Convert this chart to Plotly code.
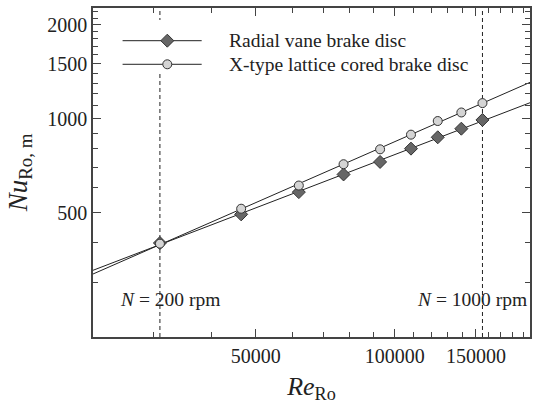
import numpy as np
import plotly.graph_objects as go

# ---------------- data ----------------
re_ro = [31000, 46500, 62000, 77500, 93000, 108500, 124000, 139500, 155000]
nu_radial = [400, 494, 582, 663, 727, 802, 872, 929, 991]
nu_xtype = [398, 515, 611, 715, 798, 889, 983, 1047, 1122]

series_names = ["Radial vane brake disc", "X-type lattice cored brake disc"]
speed_labels = ["<i>N</i> = 200 rpm", "<i>N</i> = 1000 rpm"]

x_ticks = [50000, 100000, 150000]
x_minor = [30000, 40000, 60000, 70000, 80000, 90000, 110000, 120000, 130000,
           140000, 160000, 170000, 180000, 190000]
y_ticks = [500, 1000, 1500, 2000]
y_minor = [300, 400, 600, 700, 800, 900, 1100, 1200, 1300, 1400, 1600, 1700,
           1800, 1900, 2100, 2200]

x_range = [22200, 196500]
y_range = [200, 2262]

FONT = "Liberation Serif"
INK = "#222222"

fig = go.Figure()

# dashed vertical lines at N = 200 and N = 1000 rpm (drawn beneath all traces)
for xv in (re_ro[0], re_ro[-1]):
    fig.add_shape(type="line", xref="x", yref="paper", x0=xv, x1=xv, y0=0, y1=1,
                  layer="below", line=dict(color=INK, width=1, dash="4px,3px"))

# power-law fit lines through each series
xfit = np.array(x_range, dtype=float)
for ys in (nu_xtype, nu_radial):
    b, a = np.polyfit(np.log10(re_ro), np.log10(ys), 1)
    fig.add_trace(go.Scatter(x=xfit, y=10 ** (a + b * np.log10(xfit)), mode="lines",
                             line=dict(color=INK, width=1), showlegend=False,
                             hoverinfo="skip"))

radial_marker = dict(symbol="diamond", size=10, color="#666666",
                     line=dict(color="#333333", width=1))
xtype_marker = dict(symbol="circle", size=9, color="#d4d4d4",
                    line=dict(color="#333333", width=1))

fig.add_trace(go.Scatter(x=re_ro, y=nu_radial, mode="markers", name=series_names[0],
                         marker=radial_marker, showlegend=False))
fig.add_trace(go.Scatter(x=re_ro, y=nu_xtype, mode="markers", name=series_names[1],
                         marker=xtype_marker, showlegend=False))

# legend drawn on an overlay axis (white box + long line samples like the reference)
box_x = [0.05, 0.87, 0.87, 0.05, 0.05]
box_y = [0.9635, 0.9635, 0.8024, 0.8024, 0.9635]
fig.add_trace(go.Scatter(x=box_x, y=box_y, mode="lines", fill="toself",
                         fillcolor="white", line=dict(width=0, color="white"),
                         xaxis="x2", yaxis="y2", showlegend=False, hoverinfo="skip"))
leg_x = [0.0677, 0.170, 0.2487]
leg_y = [0.9006, 0.8289]
for yy, mk in zip(leg_y, (radial_marker, xtype_marker)):
    m = dict(mk)
    m["opacity"] = [0, 1, 0]
    fig.add_trace(go.Scatter(x=leg_x, y=[yy] * 3, mode="lines+markers",
                             line=dict(color=INK, width=1), marker=m,
                             xaxis="x2", yaxis="y2", showlegend=False,
                             hoverinfo="skip"))
for yy, name in zip(leg_y, series_names):
    fig.add_annotation(x=0.3068, y=yy, xref="paper", yref="paper", text=name,
                       showarrow=False, xanchor="left", yanchor="middle",
                       font=dict(family=FONT, size=19.5, color=INK))

# speed labels
fig.add_annotation(x=0.1754, y=0.1155, xref="paper", yref="paper", text=speed_labels[0],
                   showarrow=False, xanchor="center", yanchor="middle",
                   font=dict(family=FONT, size=19.5, color=INK))
fig.add_annotation(x=0.8667, y=0.1155, xref="paper", yref="paper", text=speed_labels[1],
                   showarrow=False, xanchor="center", yanchor="middle",
                   font=dict(family=FONT, size=19.5, color=INK))

axis_common = dict(
    showgrid=False, zeroline=False, showline=True, linecolor="#444444", linewidth=1.5,
    ticks="inside", ticklen=8, tickwidth=1, tickcolor="#444444", mirror="ticks",
    tickfont=dict(family=FONT, size=20, color=INK),
)

fig.update_layout(
    width=533, height=404,
    margin=dict(l=93, r=1, t=8, b=67),
    paper_bgcolor="white", plot_bgcolor="white",
    showlegend=False,
    font=dict(family=FONT, color=INK),
    xaxis=dict(type="log", range=[np.log10(x_range[0]), np.log10(x_range[1])],
               tickmode="array", tickvals=x_ticks, ticktext=[str(v) for v in x_ticks],
               minor=dict(tickmode="array", tickvals=x_minor, ticks="inside",
                          ticklen=5, tickcolor="#444444", showgrid=False),
               title=dict(text="<i>Re</i><sub>Ro</sub>", standoff=16,
                          font=dict(family=FONT, size=26, color=INK)),
               **axis_common),
    yaxis=dict(type="log", range=[np.log10(y_range[0]), np.log10(y_range[1])],
               tickmode="array", tickvals=y_ticks, ticktext=[str(v) for v in y_ticks],
               minor=dict(tickmode="array", tickvals=y_minor, ticks="inside",
                          ticklen=5, tickcolor="#444444", showgrid=False),
               title=dict(text="<i>Nu</i><sub>Ro, m</sub>", standoff=12,
                          font=dict(family=FONT, size=27, color=INK)),
               **axis_common),
    xaxis2=dict(range=[0, 1], overlaying="x", visible=False, fixedrange=True),
    yaxis2=dict(range=[0, 1], overlaying="y", visible=False, fixedrange=True),
)

fig.write_html("out.html")
